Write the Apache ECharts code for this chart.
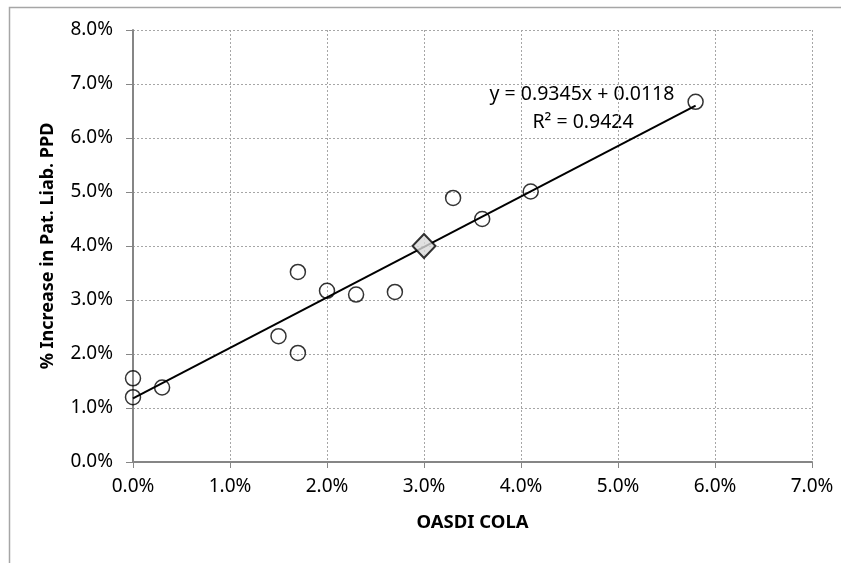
<!DOCTYPE html>
<html>
<head>
<meta charset="utf-8">
<script src="https://cdn.jsdelivr.net/npm/echarts@6/dist/echarts.min.js"></script>
<style>
html,body{margin:0;padding:0;background:#fff;}
#chart{width:841px;height:563px;}
</style>
</head>
<body>
<div id="chart"></div>
<script>
// Data (values in percent)
var colaX = [0.0, 0.0, 0.3, 1.5, 1.7, 1.7, 2.0, 2.3, 2.7, 3.3, 3.6, 4.1, 5.8];
var liabY = [1.55, 1.2, 1.38, 2.33, 2.02, 3.52, 3.17, 3.10, 3.15, 4.89, 4.50, 5.01, 6.67];
var highlightX = [3.0];
var highlightY = [4.0];
var trendSlope = 0.9345;
var trendIntercept = 0.0118;
var trendR2 = 0.9424;
var xTicks = [0, 1, 2, 3, 4, 5, 6, 7];
var yTicks = [0, 1, 2, 3, 4, 5, 6, 7, 8];

var FONT = 'Noto Sans';
var scatterData = colaX.map(function (x, i) { return [x, liabY[i]]; });
var highlightData = highlightX.map(function (x, i) { return [x, highlightY[i]]; });
var tMin = Math.min.apply(null, colaX), tMax = Math.max.apply(null, colaX);
var trendFn = function (x) { return (trendSlope * x / 100 + trendIntercept) * 100; };
var trendData = [[tMin, trendFn(tMin)], [tMax, trendFn(tMax)]];

var chart = echarts.init(document.getElementById('chart'));
chart.setOption({
  animation: false,
  backgroundColor: '#fff',
  grid: { left: 133, right: 29, top: 30, bottom: 101, containLabel: false },
  xAxis: {
    type: 'value', min: xTicks[0], max: xTicks[xTicks.length - 1], interval: 1,
    name: 'OASDI COLA', nameLocation: 'middle', nameGap: 51,
    nameTextStyle: { fontFamily: FONT, fontSize: 18.5, fontWeight: 'bold', color: '#000' },
    axisLine: { show: true, lineStyle: { color: '#868686', width: 2 } },
    axisTick: { show: true, length: 6, lineStyle: { color: '#868686', width: 1 } },
    axisLabel: { margin: 15, fontFamily: FONT, fontSize: 19, color: '#000',
      formatter: function (v) { return v.toFixed(1) + '%'; } },
    splitLine: { show: true, lineStyle: { color: '#a6a6a6', type: [2, 2], width: 1 } }
  },
  yAxis: {
    type: 'value', min: yTicks[0], max: yTicks[yTicks.length - 1], interval: 1,
    name: '% Increase in Pat. Liab. PPD', nameLocation: 'middle', nameGap: 76,
    nameTextStyle: { fontFamily: FONT, fontSize: 18, fontWeight: 'bold', color: '#000' },
    axisLine: { show: true, lineStyle: { color: '#868686', width: 2 } },
    axisTick: { show: true, length: 7, lineStyle: { color: '#868686', width: 1 } },
    axisLabel: { margin: 20, fontFamily: FONT, fontSize: 19, color: '#000',
      formatter: function (v) { return v.toFixed(1) + '%'; } },
    splitLine: { show: true, lineStyle: { color: '#a6a6a6', type: [2, 2], width: 1 } }
  },
  series: [
    {
      type: 'line', data: trendData, symbol: 'none', z: 3,
      lineStyle: { color: '#000', width: 2 }, silent: true
    },
    {
      type: 'scatter', data: scatterData, symbol: 'circle', symbolSize: 15, z: 4,
      itemStyle: { color: 'rgba(255,255,255,0)', borderColor: '#000', borderWidth: 1.5 }
    },
    {
      type: 'scatter', data: highlightData, symbol: 'diamond', symbolSize: [23, 24], z: 5,
      itemStyle: { color: '#d9d9d9', borderColor: '#000', borderWidth: 2 }
    }
  ],
  graphic: [
    { type: 'rect', left: 7, top: 5, shape: { width: 900, height: 700 },
      style: { fill: 'none', stroke: '#a6a6a6', lineWidth: 1.5 }, silent: true, z: -1 },
    { type: 'text', x: 582, y: 94, style: { text: 'y = 0.9345x + 0.0118', fontFamily: FONT, fontSize: 19.5,
      fill: '#000', textAlign: 'center', textVerticalAlign: 'middle' } },
    { type: 'text', x: 583, y: 122, style: { text: 'R² = ' + trendR2.toFixed(4), fontFamily: FONT, fontSize: 19.5,
      fill: '#000', textAlign: 'center', textVerticalAlign: 'middle' } }
  ]
});
</script>
</body>
</html>
